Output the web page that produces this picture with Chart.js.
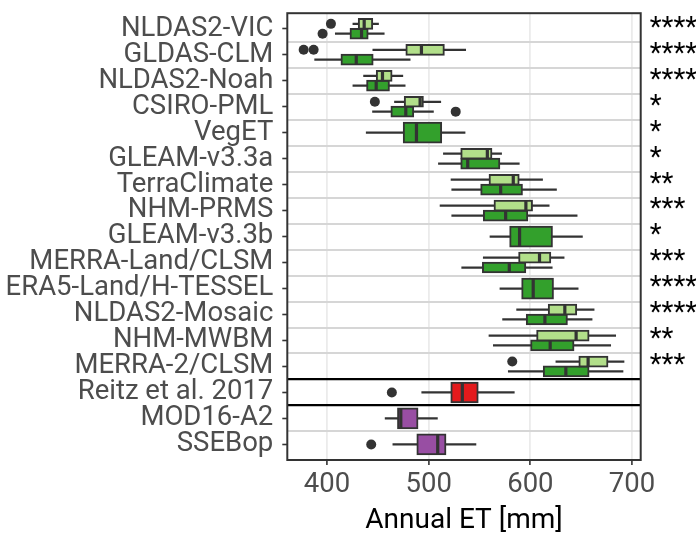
<!DOCTYPE html>
<html><head><meta charset="utf-8">
<script src="https://cdn.jsdelivr.net/npm/chart.js@4.4.1/dist/chart.umd.min.js"></script>
<style>html,body{margin:0;padding:0;background:#fff}#wrap{width:696px;height:543px}</style>
</head><body><div id="wrap"><canvas id="c" width="696" height="543"></canvas></div>
<script>
const categories = ['NLDAS2-VIC','GLDAS-CLM','NLDAS2-Noah','CSIRO-PML','VegET','GLEAM-v3.3a','TerraClimate','NHM-PRMS','GLEAM-v3.3b','MERRA-Land/CLSM','ERA5-Land/H-TESSEL','NLDAS2-Mosaic','NHM-MWBM','MERRA-2/CLSM','Reitz et al. 2017','MOD16-A2','SSEBop'];
const significance = ['****','****','****','*','*','*','**','***','*','***','****','****','**','***','','',''];
const xTicks = [400, 500, 600, 700];

// first (light) member of each pair; null where the row has a single box
const lightMin    = [425.5,445.1,436.0,466.4,null,514.5,522.0,511.2,null,553.7,null,586.5,559.3,625.1,null,null,null];
const lightQ1     = [430.7,477.5,448.4,475.9,null,531.5,559.3,564.2,null,588.4,null,617.5,606.1,647.6,null,null,null];
const lightMedian = [436.6,492.9,454.6,491.6,null,557.7,583.2,595.6,null,609.0,null,633.9,645.0,656.8,null,null,null];
const lightQ3     = [445.1,515.5,464.1,494.9,null,562.3,589.1,602.2,null,620.2,null,645.7,657.8,676.4,null,null,null];
const lightMax    = [450.7,536.4,474.6,511.9,null,571.7,612.0,618.5,null,633.2,null,662.7,683.9,692.1,null,null,null];

// main (dark / single) box of each row
const mainMin    = [408.2,387.9,425.5,444.8,438.6,509.6,522.7,522.7,560.3,532.5,570.1,572.7,563.6,578.3,493.2,457.2,464.8];
const mainQ1     = [422.6,413.7,438.9,462.8,474.9,531.5,551.1,553.7,579.6,552.8,591.4,595.9,600.2,612.6,521.7,469.3,488.3];
const mainMedian = [434.0,428.8,448.4,477.5,488.0,538.4,570.8,575.7,589.4,579.3,602.8,614.3,619.5,634.9,533.1,472.6,508.9];
const mainQ3     = [440.6,445.5,461.5,485.4,512.9,570.1,592.3,597.6,621.8,595.6,622.8,636.5,643.0,657.8,548.8,489.6,517.1];
const mainMax    = [456.3,481.8,476.9,504.7,535.8,589.1,625.7,646.0,651.2,621.5,647.0,660.7,679.0,691.1,584.2,508.6,546.5];
const mainGroup  = ['model','model','model','model','model','model','model','model','model','model','model','model','model','model','reitz','remote','remote'];

const lightOutlierRows   = [0, 1, 1, 3, 13];
const lightOutlierValues = [403.9, 377.1, 386.9, 447.1, 582.2];
const mainOutlierRows    = [0, 3, 14, 16];
const mainOutlierValues  = [395.7, 526.6, 463.8, 443.5];

const groupColors = {model: '#33a02c', reitz: '#e31a1c', remote: '#984ea3'};
const LIGHT = '#b2df8a', INK = '#333333';
const OFF = 0.19;
const isPaired = i => lightQ1[i] !== null;
const lightPos = i => i - OFF;
const mainPos = i => isPaired(i) ? i + OFF : i;

const rows = categories.map((_, i) => i);
const pairedRows = rows.filter(isPaired);
const singleRows = rows.filter(i => !isPaired(i));

const barBase = {type: 'bar', indexAxis: 'y', grouped: false, xAxisID: 'x', yAxisID: 'y', borderSkipped: false};
const datasets = [
  Object.assign({}, barBase, {label: 'whisker light', order: 5, barThickness: 1.6, backgroundColor: INK,
    data: pairedRows.map(i => ({x: [lightMin[i], lightMax[i]], y: lightPos(i)}))}),
  Object.assign({}, barBase, {label: 'whisker main', order: 5, barThickness: 1.6, backgroundColor: INK,
    data: rows.map(i => ({x: [mainMin[i], mainMax[i]], y: mainPos(i)}))}),
  Object.assign({}, barBase, {label: 'box light', order: 3, barThickness: 11, backgroundColor: LIGHT, borderColor: INK, borderWidth: 2,
    data: pairedRows.map(i => ({x: [lightQ1[i], lightQ3[i]], y: lightPos(i)}))}),
  Object.assign({}, barBase, {label: 'box dark', order: 3, barThickness: 11, backgroundColor: groupColors.model, borderColor: INK, borderWidth: 2,
    data: pairedRows.map(i => ({x: [mainQ1[i], mainQ3[i]], y: mainPos(i)}))}),
  Object.assign({}, barBase, {label: 'box single', order: 3, barThickness: 21, backgroundColor: singleRows.map(i => groupColors[mainGroup[i]]), borderColor: INK, borderWidth: 2,
    data: singleRows.map(i => ({x: [mainQ1[i], mainQ3[i]], y: mainPos(i)}))}),
  {type: 'scatter', label: 'median light', order: 2, pointStyle: 'line', rotation: 90, radius: 5, borderWidth: 3.2, borderColor: INK,
    data: pairedRows.map(i => ({x: lightMedian[i], y: lightPos(i)}))},
  {type: 'scatter', label: 'median dark', order: 2, pointStyle: 'line', rotation: 90, radius: 5, borderWidth: 3.2, borderColor: INK,
    data: pairedRows.map(i => ({x: mainMedian[i], y: mainPos(i)}))},
  {type: 'scatter', label: 'median single', order: 2, pointStyle: 'line', rotation: 90, radius: 10, borderWidth: 3.2, borderColor: INK,
    data: singleRows.map(i => ({x: mainMedian[i], y: mainPos(i)}))},
  {type: 'scatter', label: 'outliers', order: 1, pointStyle: 'circle', radius: 5, borderWidth: 0, backgroundColor: INK,
    data: lightOutlierRows.map((r, k) => ({x: lightOutlierValues[k], y: lightPos(r)}))
      .concat(mainOutlierRows.map((r, k) => ({x: mainOutlierValues[k], y: mainPos(r)})))}
];

const noPad = s => { s.paddingTop = 0; s.paddingBottom = 0; s.paddingLeft = 0; s.paddingRight = 0; };
const yRange = {type: 'linear', min: -0.6, max: 16.6, reverse: true, offset: false};
const labelFont = {family: 'Roboto', size: 27.5};

const framePlugin = {
  id: 'frame',
  afterDraw(chart) {
    const {ctx, chartArea: a} = chart;
    ctx.save();
    ctx.strokeStyle = INK; ctx.lineWidth = 2;
    ctx.strokeRect(a.left, a.top, a.right - a.left, a.bottom - a.top);
    ctx.restore();
  }
};

new Chart(document.getElementById('c'), {
  type: 'bar',
  data: {datasets},
  plugins: [framePlugin],
  options: {
    responsive: false,
    animation: false,
    events: [],
    indexAxis: 'y',
    layout: {padding: {top: 6.5, left: 0, right: 0, bottom: 0}},
    plugins: {legend: {display: false}, tooltip: {enabled: false}, title: {display: false}},
    scales: {
      x: {
        type: 'linear', position: 'bottom', min: 361, max: 708.5, offset: false,
        afterBuildTicks: s => { s.ticks = xTicks.map(v => ({value: v})); },
        afterFit: s => { s.height = 83; noPad(s); },
        grid: {offset: false, color: '#ebebeb', lineWidth: 1.8, tickColor: INK, tickLength: 5, tickWidth: 1.6},
        border: {display: false},
        ticks: {font: labelFont, color: '#4d4d4d', padding: 4, autoSkip: false, maxRotation: 0},
        title: {display: true, text: 'Annual ET [mm]', color: '#000', font: {family: 'Roboto', size: 28, lineHeight: 1.2}, padding: {top: 0, bottom: 5}}
      },
      y: Object.assign({}, yRange, {
        position: 'left', weight: 2,
        afterBuildTicks: s => { s.ticks = categories.map((_, i) => ({value: i})); },
        afterFit: s => { s.width = 287.3; noPad(s); },
        grid: {offset: false, drawOnChartArea: false, tickColor: INK, tickLength: 5, tickWidth: 1.6},
        border: {display: false},
        ticks: {font: labelFont, color: '#4d4d4d', padding: 9, autoSkip: false, callback: v => categories[v]}
      }),
      ySep: Object.assign({}, yRange, {
        position: 'left', weight: 1,
        afterBuildTicks: s => { s.ticks = categories.slice(1).map((_, i) => ({value: i + 0.5})); },
        afterFit: s => { s.width = 0; noPad(s); },
        grid: {offset: false, drawTicks: false,
          color: c => (c.tick && (c.tick.value === 13.5 || c.tick.value === 14.5)) ? '#000000' : '#d6d6d6',
          lineWidth: c => (c.tick && (c.tick.value === 13.5 || c.tick.value === 14.5)) ? 2.2 : 2},
        border: {display: false},
        ticks: {display: false}
      }),
      yR: Object.assign({}, yRange, {
        position: 'right',
        afterBuildTicks: s => { s.ticks = categories.map((_, i) => ({value: i})); },
        afterFit: s => { s.width = 55.3; noPad(s); },
        grid: {offset: false, display: false, drawTicks: false},
        border: {display: false},
        ticks: {font: labelFont, color: '#000', padding: 9, autoSkip: false, callback: v => significance[v]}
      })
    }
  }
});
</script></body></html>
